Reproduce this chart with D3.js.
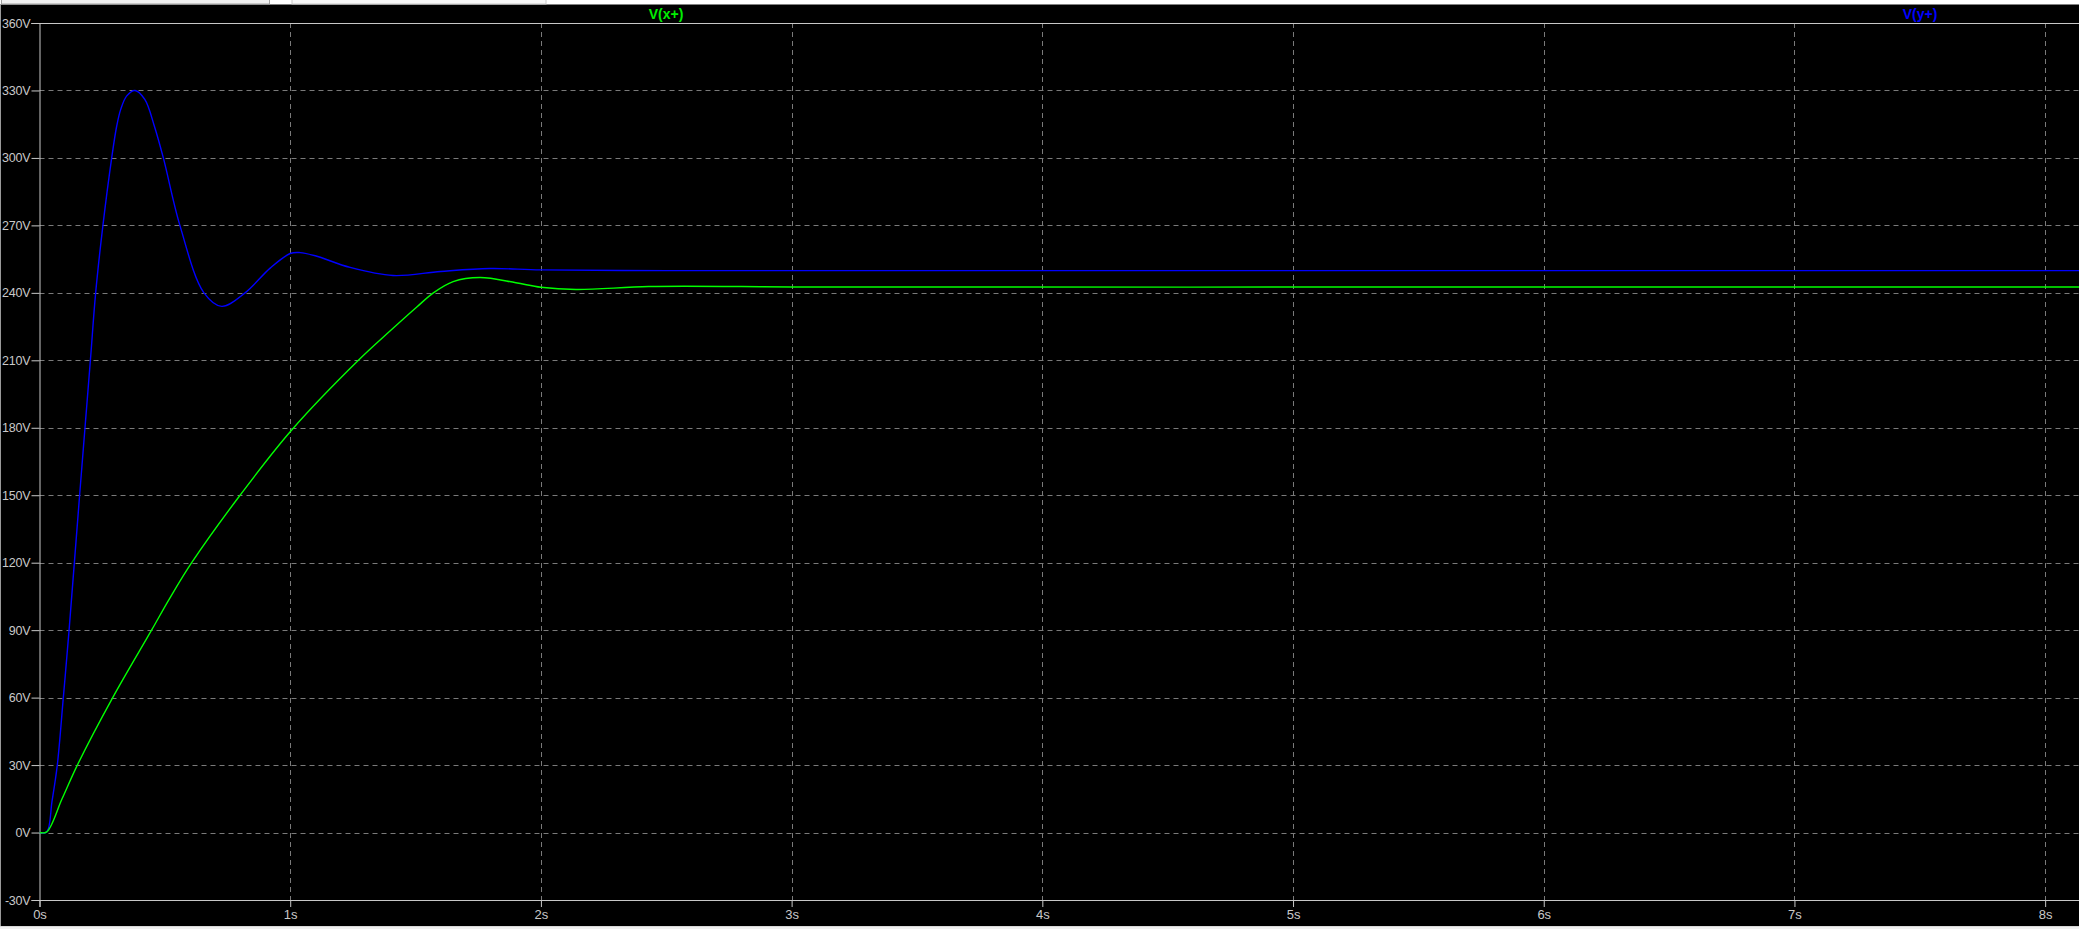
<!DOCTYPE html>
<html>
<head>
<meta charset="utf-8">
<script src="https://cdn.jsdelivr.net/npm/d3@7"></script>
<style>
  html, body { margin: 0; padding: 0; background: #000; overflow: hidden; }
  svg { display: block; }
</style>
</head>
<body>
<script>
// ---- data ----
const timeTicks = [0, 1, 2, 3, 4, 5, 6, 7, 8];
const timeTickLabels = ["0s", "1s", "2s", "3s", "4s", "5s", "6s", "7s", "8s"];
const voltTicks = [-30, 0, 30, 60, 90, 120, 150, 180, 210, 240, 270, 300, 330, 360];
const voltTickLabels = ["-30V", "0V", "30V", "60V", "90V", "120V", "150V", "180V", "210V", "240V", "270V", "300V", "330V", "360V"];
const seriesNames = ["V(x+)", "V(y+)"];

// V(y+) (blue)
const blueT = [0, 0.029, 0.05, 0.071, 0.095, 0.118, 0.16, 0.203, 0.224, 0.253, 0.288, 0.308, 0.324, 0.348, 0.381, 0.42, 0.458, 0.494, 0.56, 0.656, 0.727, 0.82, 0.92, 1.0, 1.039, 1.1, 1.239, 1.41, 1.6, 1.797, 2.0, 2.5, 3.0, 5.5, 8.14];
const blueV = [0, 0.3, 14, 30, 60, 90, 150, 210, 240, 270, 300, 314.2, 321.6, 327.6, 330, 326, 314.2, 300, 270, 240, 234, 240, 251, 257.5, 257.9, 256.5, 251.3, 247.7, 249.5, 250.8, 250.2, 249.9, 249.9, 249.9, 249.9];

// V(x+) (green)
const greenT = [0, 0.029, 0.09, 0.151, 0.292, 0.447, 0.517, 0.607, 0.80, 1.006, 1.272, 1.398, 1.505, 1.571, 1.65, 1.757, 1.9, 2.0, 2.14, 2.43, 2.8, 3.0, 5.5, 8.14];
const greenV = [0, 0.3, 15, 30, 60, 90, 103.7, 120, 150, 179, 210, 223, 233.7, 240, 245, 246.8, 244.5, 242.5, 241.5, 242.8, 242.8, 242.6, 242.6, 242.6];

// ---- layout ----
const W = 2079, H = 929;
const plotLeft = 39.5, plotTop = 23, plotBottom = 900, plotRight = W;

const svg = d3.select("body").append("svg")
  .attr("width", W).attr("height", H);

svg.append("rect").attr("width", W).attr("height", H).attr("fill", "#000");

// window tab strip at the top
svg.append("rect").attr("x", 0).attr("y", 0).attr("width", W).attr("height", 4.5).attr("fill", "#ffffff");
svg.append("rect").attr("x", 1.5).attr("y", -2).attr("width", 268).attr("height", 6).attr("fill", "#f0f0f0").attr("stroke", "#a0a0a0");
svg.append("rect").attr("x", 292).attr("y", -2).attr("width", 254).attr("height", 6).attr("fill", "#f7f7f7").attr("stroke", "#c8c8c8");

const x = d3.scaleLinear().domain([0, 8.135]).range([plotLeft, plotRight]);
const y = d3.scaleLinear().domain([-30, 360]).range([plotBottom, plotTop]);

// grid
const grid = svg.append("g").attr("stroke", "#7a7a7a").attr("stroke-width", 1).attr("stroke-dasharray", "5,4");
grid.selectAll("line.v").data(timeTicks.filter(t => t > 0)).join("line")
  .attr("class", "v")
  .attr("x1", d => Math.round(x(d)) + 0.5).attr("x2", d => Math.round(x(d)) + 0.5)
  .attr("y1", plotTop).attr("y2", plotBottom);
grid.selectAll("line.h").data(voltTicks.filter(v => v > -30 && v < 360)).join("line")
  .attr("class", "h")
  .attr("y1", d => Math.round(y(d)) + 0.5).attr("y2", d => Math.round(y(d)) + 0.5)
  .attr("x1", plotLeft).attr("x2", plotRight);

// axes
const axisColor = "#c8c8c8";
const labelColor = "#c9c9c9";
const labelFont = "Liberation Sans, Arial, sans-serif";

const yAxis = d3.axisLeft(y).tickValues(voltTicks).tickFormat((d, i) => voltTickLabels[i]).tickSize(8).tickPadding(1);
const gy = svg.append("g").attr("transform", `translate(${plotLeft},0)`).call(yAxis);
gy.select(".domain").attr("stroke", axisColor);
gy.selectAll(".tick line").attr("stroke", axisColor);
gy.selectAll(".tick text").attr("fill", labelColor)
  .attr("font-family", labelFont).attr("font-size", 12.5).attr("letter-spacing", -0.2);

const xAxis = d3.axisBottom(x).tickValues(timeTicks).tickFormat((d, i) => timeTickLabels[i]).tickSize(7).tickPadding(3);
const gx = svg.append("g").attr("transform", `translate(0,${plotBottom})`).call(xAxis);
gx.select(".domain").attr("stroke", axisColor);
gx.selectAll(".tick line").attr("stroke", axisColor);
gx.selectAll(".tick text").attr("fill", labelColor)
  .attr("font-family", labelFont).attr("font-size", 13);

// top frame line
svg.append("line").attr("x1", plotLeft - 8).attr("x2", plotRight).attr("y1", plotTop + 0.5).attr("y2", plotTop + 0.5).attr("stroke", axisColor);

// window frame lines
svg.append("line").attr("x1", 0.5).attr("x2", 0.5).attr("y1", 4).attr("y2", H).attr("stroke", "#9a9a9a");
svg.append("line").attr("x1", 0).attr("x2", W).attr("y1", 926.5).attr("y2", 926.5).attr("stroke", "#d8d8d8");
svg.append("rect").attr("x", 0).attr("y", 927).attr("width", W).attr("height", 2).attr("fill", "#f0f0f0");

// curves
const line = d3.line().x(d => x(d[0])).y(d => y(d[1])).curve(d3.curveCatmullRom.alpha(0.5));
const blueData = blueT.map((t, i) => [t, blueV[i]]);
const greenData = greenT.map((t, i) => [t, greenV[i]]);

svg.append("defs").append("clipPath").attr("id", "clip")
  .append("rect").attr("x", plotLeft).attr("y", plotTop).attr("width", plotRight - plotLeft).attr("height", plotBottom - plotTop);
const curves = svg.append("g").attr("clip-path", "url(#clip)");
curves.append("path").datum(blueData).attr("d", line)
  .attr("fill", "none").attr("stroke", "#0000ff").attr("stroke-width", 1.4);
curves.append("path").datum(greenData).attr("d", line)
  .attr("fill", "none").attr("stroke", "#00ff00").attr("stroke-width", 1.4);

// legend labels
const legendX = [666, 1920];
const legendColor = ["#00ee00", "#0000ff"];
svg.selectAll("text.legend").data(seriesNames).join("text")
  .attr("class", "legend")
  .attr("x", (d, i) => legendX[i]).attr("y", 19)
  .attr("text-anchor", "middle")
  .attr("font-family", labelFont)
  .attr("font-weight", "bold").attr("font-size", 14)
  .attr("fill", (d, i) => legendColor[i])
  .text(d => d);
</script>
</body>
</html>
